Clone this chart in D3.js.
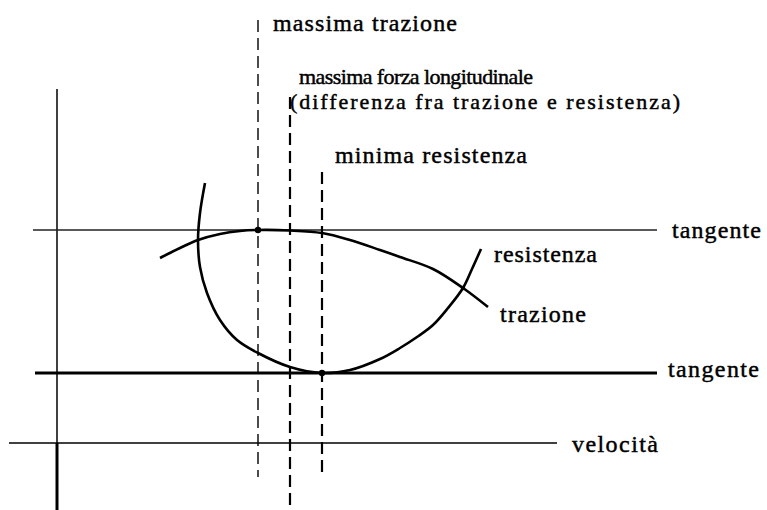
<!DOCTYPE html>
<html><head><meta charset="utf-8">
<script src="https://cdn.jsdelivr.net/npm/d3@7"></script>
<style>
html,body{margin:0;padding:0;background:#fff;}
svg text{font-family:"Liberation Serif","DejaVu Serif",serif;fill:#000;stroke:#000;stroke-width:0.45px;}
</style></head>
<body>
<svg id="chart" width="767" height="510"></svg>
<script>
// Curve data: [velocity, force] in diagram units (origin at axes crossing)
const trazione = [[103,185],[123,195],[141,203],[163,209],[183,212],[201,213],[233,212.5],[265,210],[293,203],[323,193],[343,186],[376,174],[406,155],[431,136]];
const resistenza = [[148,260],[143,230],[141,203],[143,176],[150,150],[163,123],[180,103],[201,90],[233,76],[265,70],[293,73],[323,84],[343,95],[360,106],[376,118],[391,135],[406,155],[415,174],[424,194]];
// Characteristic velocities: massima trazione, massima forza longitudinale, minima resistenza
const markerV = [201, 233, 265];
// Tangent force levels: max traction, min resistance
const tangentF = [213, 70];
const pointsOnCurves = [[201,213],[265,70],[406,155]];

const svg = d3.select("#chart");
const x = d3.scaleLinear().domain([0,600]).range([57,657]);
const y = d3.scaleLinear().domain([0,443]).range([443,0]);
const line = d3.line().x(d=>x(d[0])).y(d=>y(d[1])).curve(d3.curveCatmullRom.alpha(0.5));

// Axes
svg.append("line").attr("x1",x(0)).attr("x2",x(0)).attr("y1",89).attr("y2",y(0))
  .attr("stroke","#000").attr("stroke-width",1.5);
svg.append("line").attr("x1",x(0)).attr("x2",x(0)).attr("y1",y(0)).attr("y2",510)
  .attr("stroke","#000").attr("stroke-width",3);
svg.append("line").attr("x1",9).attr("x2",557).attr("y1",y(0)).attr("y2",y(0))
  .attr("stroke","#000").attr("stroke-width",1.6);

// Tangents
svg.append("line").attr("x1",33).attr("x2",657).attr("y1",y(tangentF[0])).attr("y2",y(tangentF[0]))
  .attr("stroke","#222").attr("stroke-width",1.4);
svg.append("line").attr("x1",35).attr("x2",657).attr("y1",y(tangentF[1])).attr("y2",y(tangentF[1]))
  .attr("stroke","#000").attr("stroke-width",2.8);

// Dashed vertical markers
const vExt = [[20,477,1.4],[97,510,2.2],[172,477,2.2]];
markerV.forEach((v,i)=>{
  svg.append("line").attr("x1",x(v)).attr("x2",x(v)).attr("y1",vExt[i][0]).attr("y2",vExt[i][1])
    .attr("stroke","#000").attr("stroke-width",vExt[i][2]).attr("stroke-dasharray","12,6");
});

// Curves
svg.append("path").attr("d",line(trazione)).attr("fill","none").attr("stroke","#000").attr("stroke-width",2.6);
svg.append("path").attr("d",line(resistenza)).attr("fill","none").attr("stroke","#000").attr("stroke-width",2.6);

// Points
svg.selectAll("circle.pt").data(pointsOnCurves).enter().append("circle")
  .attr("cx",d=>x(d[0])).attr("cy",d=>y(d[1])).attr("r",(d,i)=>i<2?3.2:2.2).attr("fill","#000");

// Labels
function label(t,px,py,w,fs){
  svg.append("text").attr("x",px).attr("y",py).attr("font-size",fs||24)
    .attr("textLength",w).attr("lengthAdjust","spacing").text(t);
}
label("massima trazione",273,31,184);
label("massima forza longitudinale",299,84,234,22);
label("(differenza fra trazione e resistenza)",290,109,390,22);
label("minima resistenza",335,163,192);
label("tangente",672,238,89);
label("resistenza",494,262,103);
label("trazione",500,322,86);
label("tangente",668,377,91);
label("velocità",572,452,86);
</script>
</body></html>
